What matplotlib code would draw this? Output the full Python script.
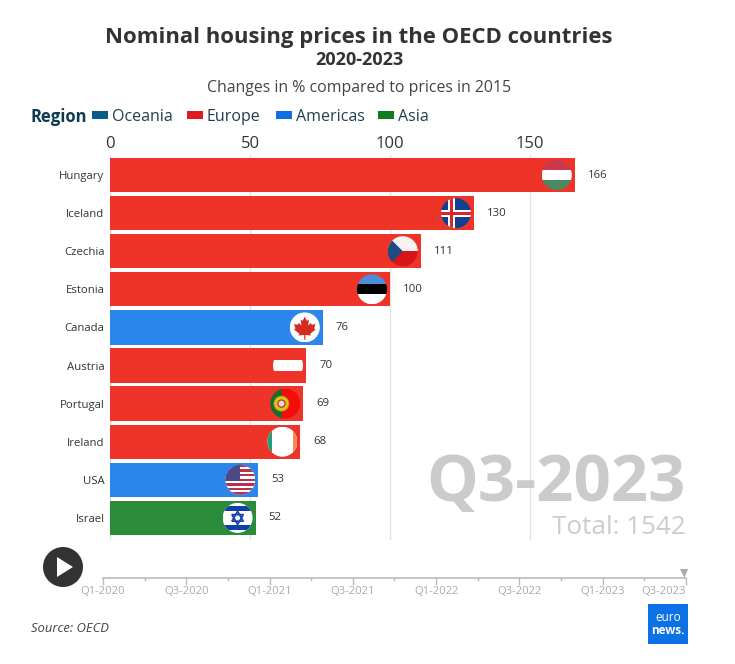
import matplotlib
matplotlib.use('Agg')
import matplotlib.pyplot as plt
from matplotlib.patches import Circle, Rectangle, Polygon

plt.rcParams['font.family'] = ['Open Sans', 'DejaVu Sans']

countries = ['Hungary', 'Iceland', 'Czechia', 'Estonia', 'Canada',
             'Austria', 'Portugal', 'Ireland', 'USA', 'Israel']
values = [166, 130, 111, 100, 76, 70, 69, 68, 53, 52]
regions = ['Europe', 'Europe', 'Europe', 'Europe', 'Americas',
           'Europe', 'Europe', 'Europe', 'Americas', 'Asia']
region_names = ['Oceania', 'Europe', 'Americas', 'Asia']
region_colors = {'Oceania': '#0b5a8a', 'Europe': '#ee3329',
                 'Americas': '#2a86ea', 'Asia': '#2a8c3a'}
legend_colors = {'Oceania': '#0b5a8a', 'Europe': '#e01b1b',
                 'Americas': '#1070e0', 'Asia': '#0e7d1e'}
x_ticks = [0, 50, 100, 150]
quarter_labels = ['Q1-2020', 'Q3-2020', 'Q1-2021', 'Q3-2021',
                  'Q1-2022', 'Q3-2022', 'Q1-2023', 'Q3-2023']
W, H = 735, 664

fig = plt.figure(figsize=(W / 100, H / 100), dpi=100, facecolor='white')
ax = fig.add_axes([110 / W, 1 - 540 / H, 576 / W, 385 / H])
ax.barh(range(len(values)), values, height=0.9,
        color=[region_colors[r] for r in regions], zorder=3)
ax.set_xlim(0, 576 / 2.8)
ax.set_ylim(9.58, -0.525)
ax.set_xticks(x_ticks)
ax.xaxis.tick_top()
ax.set_yticks(range(len(countries)))
ax.set_yticklabels(countries)
ax.tick_params(axis='x', length=0, pad=2, labelsize=12, labelcolor='#333333')
ax.tick_params(axis='y', length=0, pad=4, labelsize=8.2, labelcolor='#333333')
ax.grid(axis='x', color='#e2e2e2', lw=1, zorder=0)
for s in ax.spines.values():
    s.set_visible(False)
ax.bar_label(ax.containers[0], padding=9.5, fontsize=8.2, color='#333333')

# overlay in pixel coordinates for titles, flags and the timeline
ov = fig.add_axes([0, 0, 1, 1], facecolor='none')
ov.set_xlim(0, W)
ov.set_ylim(H, 0)
ov.axis('off')

ov.text(359, 37, 'Nominal housing prices in the OECD countries', ha='center',
        va='center', fontsize=15.9, fontweight='bold', color='#333333')
ov.text(359, 60, '2020-2023', ha='center', va='center', fontsize=13,
        fontweight='bold', color='#333333')
ov.text(359, 88, 'Changes in % compared to prices in 2015', ha='center',
        va='center', fontsize=11.4, color='#444444')

# legend
ov.text(31, 117, 'Region', va='center', fontsize=12, fontweight='bold',
        color='#0f3a4f')
legend_x = [92, 187, 276, 378]
for name, lx in zip(region_names, legend_x):
    ov.add_patch(Rectangle((lx, 111), 16, 8, color=legend_colors[name], lw=0))
    ov.text(lx + 20, 117, name, va='center', fontsize=11.5, color='#1f3f50')


def flag(name, cx, cy, r=15):
    clip = Circle((cx, cy), r, transform=ov.transData)

    def rect(x0, y0, x1, y1, c):
        p = Rectangle((cx + x0 * r, cy + y0 * r), (x1 - x0) * r, (y1 - y0) * r,
                      color=c, lw=0, zorder=5)
        ov.add_patch(p)
        p.set_clip_path(clip)

    def poly(pts, c, fill=True, lw=0):
        p = Polygon([(cx + a * r, cy + b * r) for a, b in pts], closed=True,
                    fill=fill, fc=c if fill else 'none', ec=c, lw=lw, zorder=6)
        ov.add_patch(p)
        p.set_clip_path(clip)

    if name == 'Hungary':
        rect(-1, -1, 1, -0.33, '#c8394e')
        rect(-1, -0.33, 1, 0.33, 'white')
        rect(-1, 0.33, 1, 1, '#4a8a60')
    elif name == 'Iceland':
        rect(-1, -1, 1, 1, '#123f8f')
        rect(-1, -0.24, 1, 0.24, 'white')
        rect(-0.55, -1, -0.07, 1, 'white')
        rect(-1, -0.1, 1, 0.1, '#d72828')
        rect(-0.41, -1, -0.21, 1, '#d72828')
    elif name == 'Czechia':
        rect(-1, -1, 1, 0, '#f6f2f2')
        rect(-1, 0, 1, 1, '#d7141a')
        poly([(-1, -1), (0, 0), (-1, 1)], '#1f4b85')
    elif name == 'Estonia':
        rect(-1, -1, 1, -0.33, '#4a8fd8')
        rect(-1, -0.33, 1, 0.33, '#000000')
        rect(-1, 0.33, 1, 1, 'white')
    elif name == 'Canada':
        rect(-1, -1, 1, 1, 'white')
        leaf = [(0, -0.72), (0.14, -0.44), (0.28, -0.52), (0.22, -0.12),
                (0.4, -0.3), (0.46, -0.18), (0.72, -0.22), (0.62, 0.06),
                (0.72, 0.14), (0.36, 0.42), (0.42, 0.54), (0.04, 0.5),
                (0.04, 0.82), (-0.04, 0.82), (-0.04, 0.5), (-0.42, 0.54),
                (-0.36, 0.42), (-0.72, 0.14), (-0.62, 0.06), (-0.72, -0.22),
                (-0.46, -0.18), (-0.4, -0.3), (-0.22, -0.12), (-0.28, -0.52),
                (-0.14, -0.44)]
        poly(leaf, '#d52b1e')
    elif name == 'Austria':
        rect(-1, -1, 1, 1, region_colors['Europe'])
        rect(-1, -0.36, 1, 0.36, 'white')
    elif name == 'Portugal':
        rect(-1, -1, -0.2, 1, '#1f6a2a')
        rect(-0.2, -1, 1, 1, '#f40d0d')
        ov.add_patch(Circle((cx - 0.25 * r, cy), 0.5 * r, fc='#d8c41e',
                            ec='#b89a10', lw=0.5, zorder=6))
        ov.add_patch(Circle((cx - 0.25 * r, cy), 0.24 * r, fc='#e8d8c8',
                            ec='#c62020', lw=0.8, zorder=7))
    elif name == 'Ireland':
        rect(-1, -1, 1, 1, 'white')
        rect(-1, -1, -0.7, 1, '#2a9a72')
        rect(0.7, -1, 1, 1, '#f58a55')
    elif name == 'USA':
        rect(-1, -1, 1, 1, 'white')
        for k in range(7):
            top = -1 + k * 2 / 6.5
            rect(-1, top, 1, top + 1 / 6.5, '#b5334f')
        rect(-1, -1, -0.05, 0.08, '#4a4a86')
    elif name == 'Israel':
        rect(-1, -1, 1, 1, 'white')
        rect(-1, -0.78, 1, -0.48, '#0f3fa8')
        rect(-1, 0.48, 1, 0.78, '#0f3fa8')
        poly([(0, -0.44), (0.38, 0.22), (-0.38, 0.22)], '#0f3fa8', False, 1.2)
        poly([(0, 0.44), (0.38, -0.22), (-0.38, -0.22)], '#0f3fa8', False, 1.2)


fig.canvas.draw()
for i, (c, v) in enumerate(zip(countries, values)):
    px = ax.transData.transform((v, i))
    cx, cy = ov.transData.inverted().transform(px)
    flag(c, cx - 18, cy)

# big period label
ov.text(686, 484, 'Q3-2023', ha='right', va='center', fontsize=47,
        fontweight='bold', color='#cbcbcb', zorder=2)
ov.text(686, 527, 'Total: 1542', ha='right', va='center', fontsize=18.8,
        color='#cccccc', zorder=2)

# timeline with play button
ov.add_patch(Circle((63, 567), 20, fc='#333333', ec='none'))
ov.add_patch(Polygon([(57, 557), (57, 577), (73, 567)], fc='white', ec='none',
                     zorder=3))
tl0, tl1 = 103, 686
step = (tl1 - tl0) / 14
ov.plot([tl0, tl1], [577.5, 577.5], color='#bbbbbb', lw=1.2)
for k in range(15):
    is_major = k % 2 == 0
    x = tl0 + k * step
    ov.plot([x, x], [577.5, 584 if is_major else 579.5], color='#bbbbbb', lw=1)
for k, lab in enumerate(quarter_labels):
    x = tl0 + k * 2 * step
    if k == 7:
        ov.text(686, 592, lab, ha='right', va='center', fontsize=8.1,
                color='#aaaaaa')
    else:
        ov.text(x, 592, lab, ha='center', va='center', fontsize=8.1,
                color='#aaaaaa')
ov.add_patch(Polygon([(680, 569), (688, 569), (684.5, 578)], fc='#aaaaaa',
                     ec='none'))

ov.text(31, 628, 'Source: OECD', va='center', fontsize=9.4, style='italic',
        color='#444444')

# logo
ov.add_patch(Rectangle((648, 604), 40, 40, color='#0a72e4', lw=0))
ov.text(668, 617.5, 'euro', ha='center', va='center', fontsize=8.5, color='white')
ov.text(668, 630, 'news.', ha='center', va='center', fontsize=8.5,
        fontweight='bold', color='white')

fig.savefig('out.png', dpi=100)
